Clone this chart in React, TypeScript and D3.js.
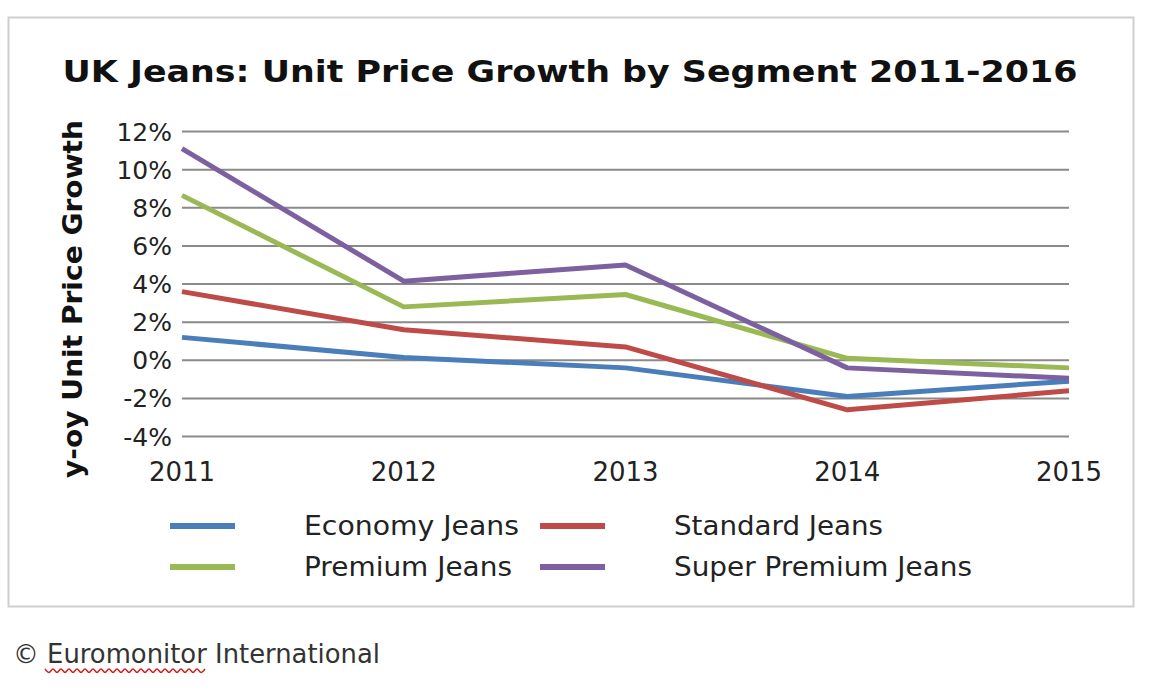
import React from "react";
import * as d3 from "d3";

const years = [2011, 2012, 2013, 2014, 2015];
const economy = [1.2, 0.15, -0.4, -1.9, -1.1];
const standard = [3.6, 1.6, 0.7, -2.6, -1.6];
const premium = [8.65, 2.8, 3.45, 0.1, -0.4];
const superPremium = [11.1, 4.15, 5.0, -0.4, -0.95];
const yTicks = [-4, -2, 0, 2, 4, 6, 8, 10, 12];
const seriesNames = ["Economy Jeans", "Standard Jeans", "Premium Jeans", "Super Premium Jeans"];
const seriesColors = ["#4a7ebb", "#be4b48", "#98b954", "#7d60a0"];
const title = "UK Jeans: Unit Price Growth by Segment 2011-2016";
const yTitle = "y-oy Unit Price Growth";
const footer = "Euromonitor International";

export default function App() {
  const x = d3.scalePoint<number>().domain(years).range([182, 1069]);
  const y = d3.scaleLinear().domain([-4, 12]).range([436.5, 131.5]);
  const line = d3
    .line<number>()
    .x((_, i) => x(years[i]) as number)
    .y((v) => y(v));
  const data = [economy, standard, premium, superPremium];
  const font = "'DejaVu Sans', sans-serif";

  const legendWidths = [215, 209, 208, 298];
  const legendItems = seriesNames.map((name, i) => ({
    name,
    color: seriesColors[i],
    col: i % 2,
    row: Math.floor(i / 2),
    w: legendWidths[i],
  }));
  const colX = [170, 540];
  const rowY = [526, 567];

  const wave = d3
    .line<number>()
    .x((d) => 45 + d * 4)
    .y((d) => 669 + (d % 2 === 0 ? 0 : 3.5))
    .curve(d3.curveCatmullRom)(d3.range(0, 41));

  return (
    <svg
      width={1164}
      height={688}
      style={{ position: "absolute", left: 0, top: 0, background: "#fff" }}
    >
      <rect x={0} y={0} width={1164} height={688} fill="#fff" />
      <rect x={8.5} y={17.5} width={1125} height={589} fill="#fff" stroke="#cfcfcf" strokeWidth={2} />
      <text
        x={570}
        y={82}
        textAnchor="middle"
        fontFamily={font}
        fontWeight="bold"
        fontSize={31}
        fill="#111"
        textLength={1015}
        lengthAdjust="spacingAndGlyphs"
      >
        {title}
      </text>
      {yTicks.map((t) => (
        <g key={t}>
          <line x1={182} x2={1069} y1={y(t)} y2={y(t)} stroke="#8a8a8a" strokeWidth={2} />
          <text
            x={172}
            y={y(t) + 9}
            textAnchor="end"
            fontFamily={font}
            fontSize={25}
            fill="#222"
          >
            {t + "%"}
          </text>
        </g>
      ))}
      {years.map((yr) => (
        <text
          key={yr}
          x={x(yr)}
          y={481}
          textAnchor="middle"
          fontFamily={font}
          fontSize={26}
          fill="#222"
        >
          {yr}
        </text>
      ))}
      <text
        transform="translate(82,299) rotate(-90)"
        textAnchor="middle"
        fontFamily={font}
        fontWeight="bold"
        fontSize={27}
        fill="#111"
        textLength={358}
        lengthAdjust="spacingAndGlyphs"
      >
        {yTitle}
      </text>
      {data.map((vals, i) => (
        <path
          key={i}
          d={line(vals) || ""}
          fill="none"
          stroke={seriesColors[i]}
          strokeWidth={5}
          strokeLinejoin="round"
        />
      ))}
      {legendItems.map((it) => (
        <g key={it.name}>
          <line
            x1={colX[it.col]}
            x2={colX[it.col] + 65}
            y1={rowY[it.row]}
            y2={rowY[it.row]}
            stroke={it.color}
            strokeWidth={6}
          />
          <text
            x={colX[it.col] + 134}
            y={rowY[it.row] + 9}
            fontFamily={font}
            fontSize={26}
            fill="#222"
            textLength={it.w}
            lengthAdjust="spacingAndGlyphs"
          >
            {it.name}
          </text>
        </g>
      ))}
      <text
        x={13}
        y={663}
        fontFamily={font}
        fontSize={26}
        fill="#333"
        textLength={367}
        lengthAdjust="spacingAndGlyphs"
      >
        {"\u00A9 " + footer}
      </text>
      <path d={wave || ""} fill="none" stroke="#d32020" strokeWidth={1.5} />
    </svg>
  );
}
